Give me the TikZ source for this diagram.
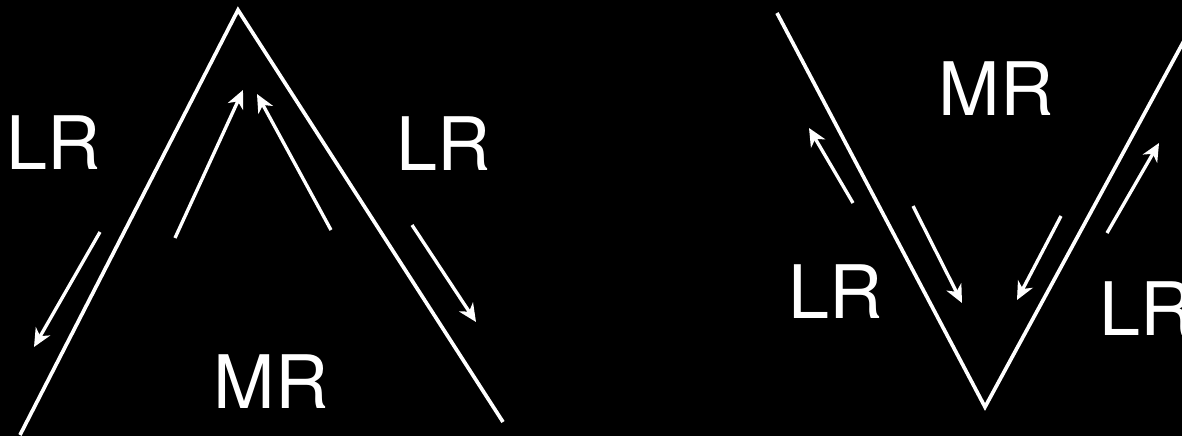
\documentclass[tikz,border=0pt]{standalone}
\usepackage{fontspec}
\setmainfont{TeX Gyre Heros}
\usetikzlibrary{arrows.meta}

\begin{document}
\begin{tikzpicture}[x=0.02cm,y=-0.02cm,
  every node/.style={text=white,font=\fontsize{42}{50}\selectfont,inner sep=0pt},
  ridge/.style={white,line width=2.1pt,line join=miter},
  flow/.style={white,line width=1.9pt,-{Stealth[length=3.6mm,width=3.3mm,inset=1.1mm]}}]
  \fill[black] (0,0) rectangle (1182,436);
  \useasboundingbox (0,0) rectangle (1182,436);
  % left: ridge
  \draw[ridge] (20,435)--(238,10)--(503,422);
  \draw[flow] (175,238)--(243,90);
  \draw[flow] (331,230)--(257,94);
  \draw[flow] (100,232)--(34,347);
  \draw[flow] (412,225)--(476,322);
  \node[anchor=base] (lrA) at (54,169){LR};
  \node[anchor=base] (lrB) at (444,170){LR};
  \node[anchor=base] (mrA) at (271,408){MR};
  % right: trench
  \draw[ridge] (777,13)--(985,407)--(1192,26);
  \draw[flow] (853,203)--(809,128);
  \draw[flow] (913,206)--(962,303);
  \draw[flow] (1061,216)--(1017,300);
  \draw[flow] (1107,233)--(1159,143);
  \node[anchor=base] (mrB) at (996,115){MR};
  \node[anchor=base] (lrC) at (836,318){LR};
  \node[anchor=base west] (lrD) at (1099,335){LR};
\end{tikzpicture}
\end{document}
